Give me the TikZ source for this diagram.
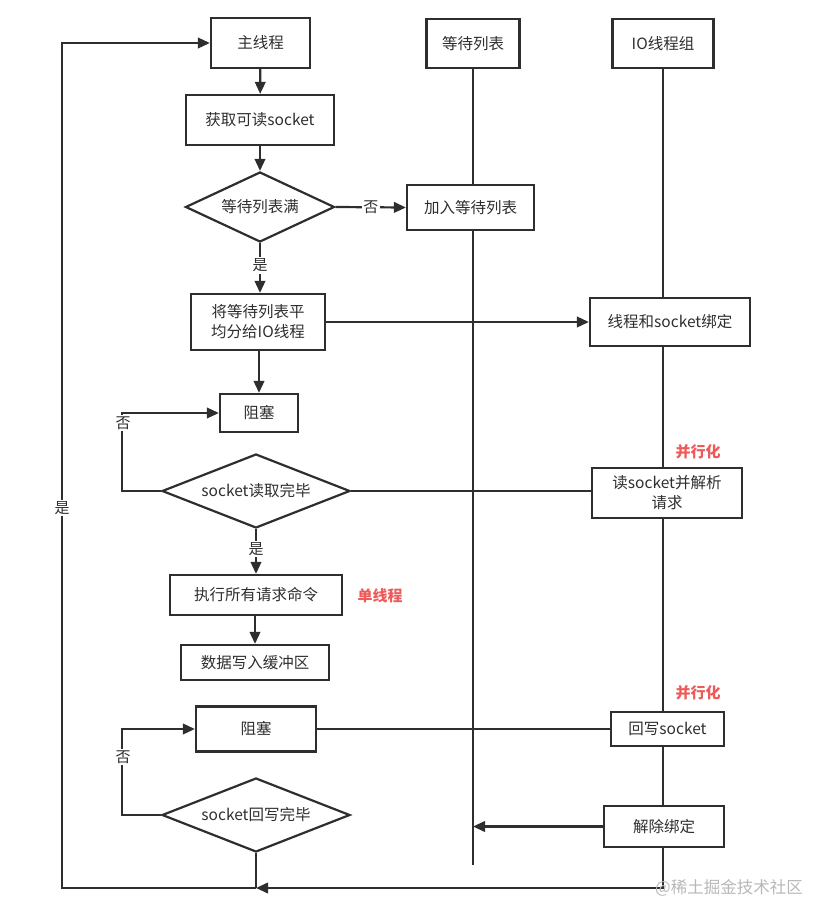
\documentclass[tikz,border=0pt]{standalone}
\usepackage{fontspec}
\setmainfont{Noto Sans CJK SC}
\usetikzlibrary{shapes.geometric,arrows.meta,calc}
\definecolor{ink}{HTML}{2E2E2E}
\definecolor{redlab}{HTML}{EE5A5A}
\begin{document}
\begin{tikzpicture}[x=1pt,y=-1pt,
  every node/.style={text=ink},
  bx/.style={draw=ink,line width=2.2pt,rectangle,inner sep=0pt,align=center,font=\fontsize{15.5}{20}\selectfont},
  dm/.style={draw=ink,line width=2.2pt,diamond,inner sep=0pt,font=\fontsize{15.5}{20}\selectfont},
  ln/.style={draw=ink,line width=2.2pt},
  arr/.style={ln,-{Triangle[length=12pt,width=10.5pt]}},
  lab/.style={fill=white,inner sep=1.5pt,font=\fontsize{15}{17}\selectfont},
  red/.style={text=redlab,font=\fontsize{15}{17}\selectfont\bfseries},
]
\path[use as bounding box] (0,0) rectangle (835,924);

% lane heads
\node[bx,minimum width=99pt,minimum height=50pt] (main) at (260.5,43) {主线程};
\node[bx,minimum width=93pt,minimum height=49pt] (wl) at (473,43.5) {等待列表};
\node[bx,minimum width=101pt,minimum height=49pt] (io) at (663,43.5) {IO线程组};

% main flow
\node[bx,minimum width=148pt,minimum height=50pt] (get) at (260,120) {获取可读socket};
\node[dm,aspect=2.13,minimum width=149pt,minimum height=70pt] (full) at (260,207) {等待列表满};
\node[bx,minimum width=127pt,minimum height=45pt] (add) at (470.5,207.5) {加入等待列表};
\node[bx,minimum width=134pt,minimum height=56pt] (dist) at (258,322) {将等待列表平\\均分给IO线程};
\node[bx,minimum width=160pt,minimum height=48pt] (bind) at (670,322) {线程和socket绑定};
\node[bx,minimum width=78pt,minimum height=38pt] (blk1) at (259,413) {阻塞};
\node[dm,aspect=2.54,minimum width=188pt,minimum height=74pt] (rdone) at (256,491) {socket读取完毕};
\node[bx,minimum width=150pt,minimum height=50pt] (read) at (667,493) {读socket并解析\\请求};
\node[bx,minimum width=172pt,minimum height=40pt] (exec) at (256,595) {执行所有请求命令};
\node[bx,minimum width=148pt,minimum height=35pt] (buf) at (255,662.5) {数据写入缓冲区};
\node[bx,minimum width=120pt,minimum height=45pt] (blk2) at (256,729) {阻塞};
\node[bx,minimum width=113pt,minimum height=34pt] (wb) at (667.5,729) {回写socket};
\node[dm,aspect=2.54,minimum width=188pt,minimum height=74pt] (wdone) at (256,815) {socket回写完毕};
\node[bx,minimum width=120pt,minimum height=41pt] (unb) at (664,826.5) {解除绑定};

% red notes
\node[red] (par1) at (698,452) {并行化};
\node[red] (single) at (380,596) {单线程};
\node[red] (par2) at (698,693) {并行化};

% helper coordinates
\coordinate (wlend) at (473,865);
\coordinate (ioend) at (663,888);
\coordinate (junc) at (256,888);
\coordinate (lc) at (62,888);

% lifelines
\draw[ln] (wl.south) -- (wl.south |- add.north);
\draw[ln] (add.south -| wl.south) -- (wlend);
\draw[ln] (io.south) -- (io.south |- bind.north);
\draw[ln] (bind.south -| io.south) -- (io.south |- read.north);
\draw[ln] (read.south -| io.south) -- (io.south |- wb.north);
\draw[ln] (wb.south -| io.south) -- (io.south |- unb.north);

% arrows
\draw[arr] (main) -- (get);
\draw[arr] (get) -- (full);
\draw[arr] (full.east) -- node[lab] (no1) {否} (add.west);
\draw[arr] (full.south) -- node[lab,pos=0.45] (yes1) {是} (dist.north -| full.south);
\draw[arr] (dist.east) -- (bind.west);
\draw[arr] (dist.south -| blk1.north) -- (blk1.north);
\draw[arr] (rdone.west) -- ++(-39,0) |- (blk1.west);
\node[lab] (no2) at (123,423) {否};
\draw[ln] (rdone.east) -- (rdone.east -| read.west);
\draw[arr] (rdone.south) -- node[lab,pos=0.45] (yes2) {是} (exec.north -| rdone.south);
\draw[arr] (exec.south -| buf.north) -- (buf.north);
\draw[ln] (blk2.east) -- (wb.west);
\draw[arr] (wdone.west) -- ++(-39,0) |- (blk2.west);
\node[lab] (no3) at (123,757) {否};
\draw[arr] (unb.west) -- (unb.west -| wlend);
\draw[arr] (unb.south -| io.south) -- (ioend) -- (junc);
\draw[ln] (wdone.south) -- (junc);
\draw[arr] (junc) -- (lc) |- (main.west);
\node[lab] (yes3) at (62,508) {是};

% watermark
\node[text=black!28,font=\fontsize{16.5}{18}\selectfont,anchor=west,inner sep=0pt] (wm) at (655,888) {@稀土掘金技术社区};
\end{tikzpicture}
\end{document}
